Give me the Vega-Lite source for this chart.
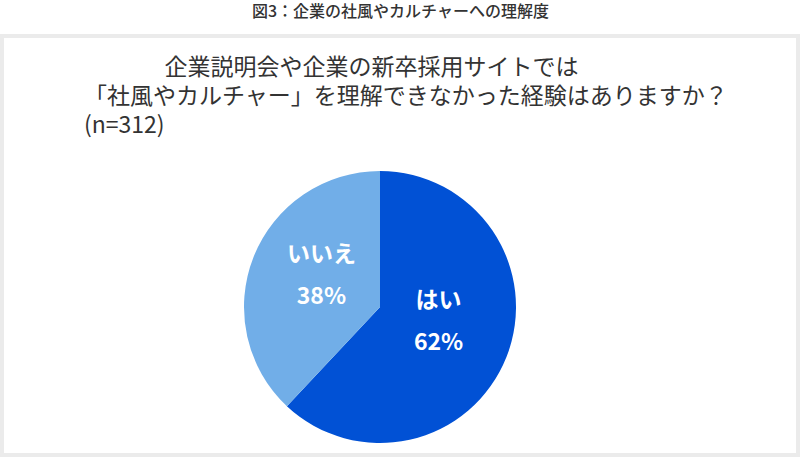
{
  "$schema": "https://vega.github.io/schema/vega-lite/v6.json",
  "width": 796,
  "height": 419,
  "autosize": "none",
  "padding": {"left": 2, "top": 36, "right": 2, "bottom": 2},
  "background": "white",
  "view": {"stroke": "#ebebeb", "strokeWidth": 4, "fill": "white"},
  "title": {
    "text": "\u200b\u3000\u3000\u3000\u3000\u3000\u3000\u3000\u3000\u3000\u3000\u2002図3：企業の社風やカルチャーへの理解度",
    "subtitle": [
      "\u200b\u3000\u3000\u3000\u2002企業説明会や企業の新卒採用サイトでは",
      "「社風やカルチャー」を理解できなかった経験はありますか？",
      "(n=312)"
    ],
    "anchor": "start",
    "align": "left",
    "dx": 82,
    "frame": "group",
    "font": "Noto Sans CJK JP",
    "fontSize": 16,
    "fontWeight": 500,
    "color": "#333333",
    "subtitleFont": "Noto Sans CJK JP",
    "subtitleFontSize": 23,
    "subtitleColor": "#333333",
    "subtitleLineHeight": 29,
    "subtitlePadding": 37,
    "offset": -102
  },
  "data": {
    "values": [
      {"answer": "はい", "pct": 62},
      {"answer": "いいえ", "pct": 38}
    ]
  },
  "transform": [
    {"calculate": "datum.answer + '\\n' + datum.pct + '%'", "as": "label"}
  ],
  "encoding": {
    "theta": {"field": "pct", "type": "quantitative", "stack": true},
    "order": {"field": "pct", "type": "quantitative", "sort": "descending"}
  },
  "layer": [
    {
      "mark": {"type": "arc", "radius": 136, "xOffset": -20, "yOffset": 61.5},
      "encoding": {
        "color": {
          "field": "answer",
          "type": "nominal",
          "legend": null,
          "scale": {"domain": ["はい", "いいえ"], "range": ["#0151d5", "#71aee8"]}
        }
      }
    },
    {
      "mark": {
        "type": "text",
        "radius": 63,
        "xOffset": -20,
        "yOffset": 32.5,
        "font": "Noto Sans CJK JP",
        "fontSize": 23,
        "fontWeight": "bold",
        "fill": "white",
        "lineBreak": "\n",
        "lineHeight": 42
      },
      "encoding": {
        "text": {"field": "label"}
      }
    }
  ]
}
